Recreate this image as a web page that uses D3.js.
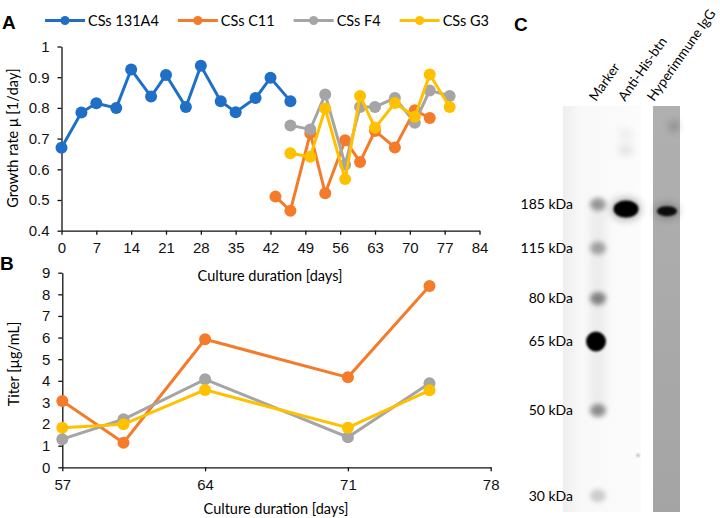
<!DOCTYPE html>
<html>
<head>
<meta charset="utf-8">
<script src="https://cdn.jsdelivr.net/npm/d3@7"></script>
<style>
  body { margin: 0; background: #fff; }
  svg { display: block; font-family: Lato, "Open Sans", sans-serif; }
  .tick text { font-size: 15px; fill: #111; }
  .domain, .tick line { stroke: #111; stroke-width: 1.3; }
</style>
</head>
<body>
<div id="chart"></div>
<script>
// panel A: growth rate per clone
const daysA131 = [0, 4, 7, 11, 14, 18, 21, 25, 28, 32, 35, 39, 42, 46];
const mu131 = [0.67, 0.785, 0.815, 0.80, 0.925, 0.837, 0.907, 0.803, 0.937, 0.822, 0.786, 0.832, 0.898, 0.822];
const daysAC11 = [43, 46, 50, 53, 57, 60, 63, 67, 71, 74];
const muC11 = [0.511, 0.465, 0.717, 0.522, 0.695, 0.624, 0.725, 0.671, 0.792, 0.767];
const daysAF4 = [46, 50, 53, 57, 60, 63, 67, 71, 74, 78];
const muF4 = [0.743, 0.730, 0.844, 0.615, 0.803, 0.803, 0.832, 0.752, 0.857, 0.839];
const daysAG3 = [46, 50, 53, 57, 60, 63, 67, 71, 74, 78];
const muG3 = [0.652, 0.641, 0.798, 0.568, 0.839, 0.735, 0.816, 0.771, 0.909, 0.803];
const ticksA = [0, 7, 14, 21, 28, 35, 42, 49, 56, 63, 70, 77, 84];

// panel B: titer
const daysB = [57, 60, 64, 71, 75];
const titerC11 = [3.07, 1.14, 5.92, 4.16, 8.39];
const titerF4 = [1.30, 2.22, 4.07, 1.39, 3.89];
const titerG3 = [1.83, 1.99, 3.58, 1.83, 3.56];
const ticksB = [57, 64, 71, 78];

// panel C: western blot
const lanes = ["Marker", "Anti-His-btn", "Hyperimmune IgG"];
const markerKDa = [185, 115, 80, 65, 50, 30];
const markerMobility = [0.242, 0.35, 0.474, 0.58, 0.75, 0.96];
const markerIntensity = [0.38, 0.32, 0.45, 1, 0.42, 0.18];
const sampleLane = ["Anti-His-btn", "Anti-His-btn", "Anti-His-btn", "Anti-His-btn", "Hyperimmune IgG", "Hyperimmune IgG"];
const sampleMobility = [0.254, 0.108, 0.07, 0.86, 0.259, 0.05];
const sampleIntensity = [1, 0.12, 0.07, 0.1, 0.9, 0.3];

const series = [
    { name: "CSs 131A4", color: "#1f6fc6", days: daysA131, mu: mu131 },
    { name: "CSs C11", color: "#f47b2a", days: daysAC11, mu: muC11, titer: titerC11 },
    { name: "CSs F4", color: "#a5a5a5", days: daysAF4, mu: muF4, titer: titerF4 },
    { name: "CSs G3", color: "#ffc000", days: daysAG3, mu: muG3, titer: titerG3 }
];

const svg = d3.select("#chart").append("svg")
    .attr("width", 720)
    .attr("height", 518);

function panelLetter(x, y, t) {
    svg.append("text")
        .attr("x", x).attr("y", y)
        .style("font-family", "'Liberation Sans', Arial, sans-serif")
        .style("font-weight", "bold")
        .style("font-size", "19px")
        .text(t);
}

// ---------- A ----------
const xA = d3.scaleLinear().domain([0, 84]).range([61.5, 479.5]);
const yA = d3.scaleLinear().domain([0.4, 1]).range([230.7, 46.5]);

svg.append("g")
    .attr("transform", `translate(0,${yA(0.4)})`)
    .call(d3.axisBottom(xA).tickValues(ticksA).tickSize(4).tickSizeOuter(0).tickPadding(8));
svg.append("g")
    .attr("transform", `translate(${xA(0)},0)`)
    .call(d3.axisLeft(yA).ticks(6).tickFormat(d => d3.format("")(+d.toFixed(1))).tickSize(4).tickSizeOuter(0).tickPadding(8));

const lineA = d3.line().x(d => xA(d[0])).y(d => yA(d[1]));
series.forEach(s => {
    const pts = s.days.map((d, i) => [d, s.mu[i]]);
    const g = svg.append("g");
    g.append("path").datum(pts)
        .attr("d", lineA)
        .attr("fill", "none")
        .attr("stroke", s.color)
        .attr("stroke-width", 3);
    g.selectAll("circle").data(pts).join("circle")
        .attr("cx", d => xA(d[0]))
        .attr("cy", d => yA(d[1]))
        .attr("r", 6)
        .attr("fill", s.color);
});

svg.append("text")
    .attr("x", 270).attr("y", 281)
    .attr("text-anchor", "middle")
    .style("font-size", "14.5px")
    .text("Culture duration [days]");
svg.append("text")
    .attr("transform", `translate(18,138) rotate(-90)`)
    .attr("text-anchor", "middle")
    .style("font-size", "14.5px")
    .text("Growth rate μ [1/day]");

// legend
let lx = 45;
series.forEach(s => {
    const g = svg.append("g").attr("transform", `translate(${lx},20.5)`);
    g.append("line").attr("x1", 0).attr("x2", 40)
        .attr("stroke", s.color).attr("stroke-width", 3);
    g.append("circle").attr("cx", 20).attr("r", 4.5).attr("fill", s.color);
    const t = g.append("text").attr("x", 43).attr("dy", "0.35em")
        .style("font-size", "14.5px").text(s.name);
    lx += 43 + t.node().getComputedTextLength() + 19;
});

panelLetter(2, 29, "A");

// ---------- B ----------
const xB = d3.scaleLinear().domain([57, 78]).range([62.3, 490.7]);
const yB = d3.scaleLinear().domain([0, 9]).range([467.3, 272.7]);

svg.append("g")
    .attr("transform", `translate(0,${yB(0)})`)
    .call(d3.axisBottom(xB).tickValues(ticksB).tickSize(4).tickSizeOuter(0).tickPadding(8));
svg.append("g")
    .attr("transform", `translate(${xB(57)},0)`)
    .call(d3.axisLeft(yB).ticks(9).tickSize(4).tickSizeOuter(0).tickPadding(8));

const lineB = d3.line().x(d => xB(d[0])).y(d => yB(d[1]));
series.filter(s => s.titer).forEach(s => {
    const pts = daysB.map((d, i) => [d, s.titer[i]]);
    const g = svg.append("g");
    g.append("path").datum(pts)
        .attr("d", lineB)
        .attr("fill", "none")
        .attr("stroke", s.color)
        .attr("stroke-width", 3);
    g.selectAll("circle").data(pts).join("circle")
        .attr("cx", d => xB(d[0]))
        .attr("cy", d => yB(d[1]))
        .attr("r", 6)
        .attr("fill", s.color);
});

svg.append("text")
    .attr("x", 276).attr("y", 514)
    .attr("text-anchor", "middle")
    .style("font-size", "14.5px")
    .text("Culture duration [days]");
svg.append("text")
    .attr("transform", `translate(19,364) rotate(-90)`)
    .attr("text-anchor", "middle")
    .style("font-size", "14.5px")
    .text("Titer [µg/mL]");

panelLetter(0, 270, "B");

// ---------- C ----------
const yBlot = d3.scaleLinear().domain([0, 1]).range([106, 512]);
const laneX = { "Marker": 598, "Anti-His-btn": 626, "Hyperimmune IgG": 667 };
const labelX = { "Marker": 596, "Anti-His-btn": 625, "Hyperimmune IgG": 654 };

const defs = svg.append("defs");
const lg = defs.append("linearGradient").attr("id", "memb").attr("x1", 0).attr("x2", 1);
lg.append("stop").attr("offset", "0%").attr("stop-color", "#eeeeee");
lg.append("stop").attr("offset", "22%").attr("stop-color", "#f8f8f8");
lg.append("stop").attr("offset", "100%").attr("stop-color", "#fcfcfc");
const lg2 = defs.append("linearGradient").attr("id", "memb2").attr("x1", 0).attr("x2", 0).attr("y1", 0).attr("y2", 1);
lg2.append("stop").attr("offset", "0%").attr("stop-color", "#b0b0b0");
lg2.append("stop").attr("offset", "100%").attr("stop-color", "#a4a4a4");
[1.3, 2.4, 4].forEach((s, i) => {
    defs.append("filter").attr("id", "blur" + i)
        .attr("x", "-100%").attr("y", "-100%").attr("width", "300%").attr("height", "300%")
        .append("feGaussianBlur").attr("stdDeviation", s);
});

svg.append("rect")
    .attr("x", 563).attr("y", yBlot(0))
    .attr("width", 78).attr("height", yBlot(1) - yBlot(0))
    .attr("fill", "url(#memb)");
svg.append("rect")
    .attr("x", 653).attr("y", yBlot(0))
    .attr("width", 27).attr("height", yBlot(1) - yBlot(0))
    .attr("fill", "url(#memb2)");

// faint smear along marker lane
svg.append("rect")
    .attr("x", laneX.Marker - 8).attr("y", yBlot(markerMobility[0]))
    .attr("width", 16).attr("height", yBlot(markerMobility[4]) - yBlot(markerMobility[0]))
    .attr("fill", "#000").attr("opacity", 0.05)
    .attr("filter", "url(#blur2)");

// marker bands
svg.append("g").selectAll("ellipse")
    .data(markerKDa.map((k, i) => ({ k, m: markerMobility[i], v: markerIntensity[i] })))
    .join("ellipse")
    .attr("cx", d => laneX.Marker - (d.v > 0.9 ? 2 : 0))
    .attr("cy", d => yBlot(d.m))
    .attr("rx", d => d.v > 0.9 ? 10 : 8)
    .attr("ry", d => d.v > 0.9 ? 10 : 6.5)
    .attr("fill", "#000")
    .attr("opacity", d => d.v)
    .attr("filter", d => d.v > 0.9 ? "url(#blur0)" : "url(#blur1)");

// sample bands: soft halo then core
const samples = sampleLane.map((l, i) => ({ l, m: sampleMobility[i], v: sampleIntensity[i] }));
svg.append("g").selectAll("ellipse")
    .data(samples.filter(d => d.v > 0.5))
    .join("ellipse")
    .attr("cx", d => laneX[d.l])
    .attr("cy", d => yBlot(d.m))
    .attr("rx", d => d.l === "Anti-His-btn" ? 15 : 12)
    .attr("ry", d => d.l === "Anti-His-btn" ? 11 : 7)
    .attr("fill", "#000")
    .attr("opacity", 0.3)
    .attr("filter", "url(#blur2)");
svg.append("g").selectAll("ellipse")
    .data(samples)
    .join("ellipse")
    .attr("cx", d => laneX[d.l] + (d.v < 0.5 ? (d.l === "Hyperimmune IgG" ? 7 : (d.m > 0.5 ? 12 : 0)) : 0))
    .attr("cy", d => yBlot(d.m))
    .attr("rx", d => d.v > 0.5 ? (d.l === "Anti-His-btn" ? 12.5 : 10) : (d.m > 0.5 ? 1.5 : (d.l === "Anti-His-btn" ? 7 : 4)))
    .attr("ry", d => d.v > 0.5 ? (d.l === "Anti-His-btn" ? 8.5 : 5) : (d.m > 0.5 ? 1.5 : 5))
    .attr("fill", "#000")
    .attr("opacity", d => d.m > 0.5 && d.v < 0.5 ? 0.35 : d.v)
    .attr("filter", d => d.v > 0.5 ? "url(#blur0)" : (d.m > 0.5 ? "url(#blur0)" : "url(#blur2)"));

// size labels
svg.append("g").selectAll("text")
    .data(markerKDa.map((k, i) => ({ k, m: markerMobility[i] })))
    .join("text")
    .attr("x", 573)
    .attr("y", d => yBlot(d.m))
    .attr("dy", "0.35em")
    .attr("text-anchor", "end")
    .style("font-size", "14px")
    .text(d => d.k + " kDa");

// lane labels
svg.append("g").selectAll("text")
    .data(lanes)
    .join("text")
    .attr("transform", d => `translate(${labelX[d]},102) rotate(-55)`)
    .style("font-size", "13.5px")
    .text(d => d);

panelLetter(514, 31, "C");
</script>
</body>
</html>
